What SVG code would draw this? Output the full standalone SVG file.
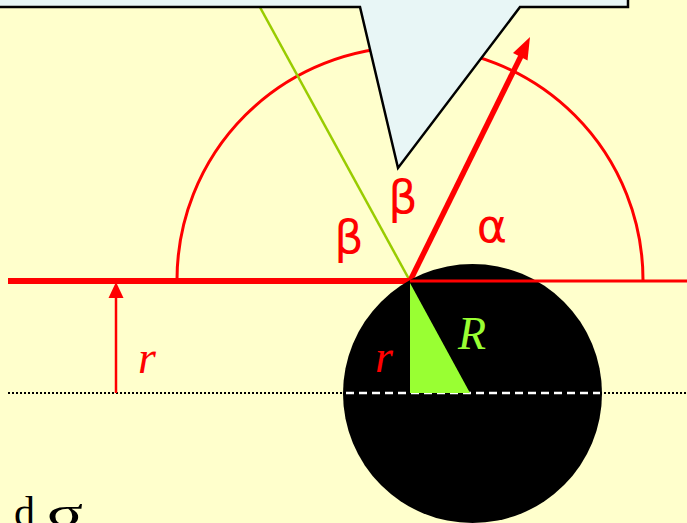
<svg xmlns="http://www.w3.org/2000/svg" width="687" height="523" viewBox="0 0 687 523">
<style>
.red{stroke:#FF0000;fill:none}
.lbl{fill:#FF0000;font-family:"DejaVu Sans",sans-serif;font-size:46px;text-anchor:middle}
.it{font-family:"Liberation Serif",serif;font-style:italic;font-size:46px}
</style>
<rect x="0" y="0" width="687" height="523" fill="#FFFFCC"/>
<g id="arc"><path class="red" d="M177,280 A233,233 0 0 1 643,280" stroke-width="3"/></g>
<g id="connectors">
<line x1="256" y1="0" x2="410" y2="281" stroke="#99CC00" stroke-width="2.5"/>
<line class="red" x1="410" y1="281" x2="521" y2="56" stroke-width="5.5"/>
<polygon points="530,37 527.5,60.5 513,53" fill="#FF0000"/>
<line class="red" x1="8" y1="281" x2="410" y2="281" stroke-width="6"/>
<line x1="8" y1="393" x2="687" y2="393" stroke="#000" stroke-width="2" stroke-dasharray="2 2"/>
<line class="red" x1="116" y1="393" x2="116" y2="295" stroke-width="2.5"/>
<polygon points="116,282 108.5,298 123.5,298" fill="#FF0000"/>
</g>
<g id="box"><polygon points="-5,-10 628,-10 628,7 520,7 398,168 360,7 -5,7" fill="#E8F6F6" stroke="#000" stroke-width="2.5"/></g>
<g id="sphere">
<circle cx="472.5" cy="393.5" r="129.5" fill="#000"/>
<line x1="410" y1="281" x2="687" y2="281" stroke="#FF0000" stroke-width="3"/>
<line x1="346" y1="393" x2="600" y2="393" stroke="#FFF" stroke-width="2.5" stroke-dasharray="8 5"/>
<polygon points="410,283 410,393 470,393" fill="#99FF33"/>
</g>
<g id="labels">
<text class="lbl" x="403" y="213">β</text>
<text class="lbl" x="349" y="253">β</text>
<text class="lbl" x="492" y="242">α</text>
<text class="it" x="147" y="373" fill="#FF0000" text-anchor="middle">r</text>
<text class="it" x="384" y="372" fill="#FF0000" text-anchor="middle">r</text>
<text class="it" x="472" y="349" fill="#99FF33" text-anchor="middle">R</text>
<text x="14" y="526" font-family="Liberation Serif,serif" font-size="42">d</text>
<text x="47" y="526" font-family="Liberation Serif,serif" font-size="42" textLength="36" lengthAdjust="spacingAndGlyphs">σ</text>
</g>
</svg>
